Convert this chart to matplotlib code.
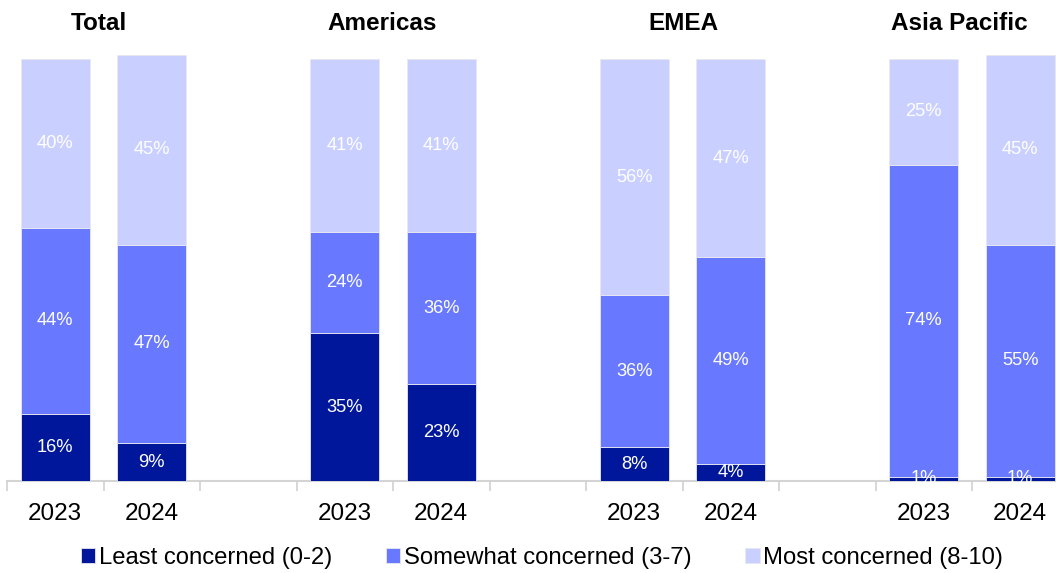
import matplotlib
matplotlib.use("Agg")
import matplotlib.pyplot as plt
import matplotlib.transforms as mtransforms
import numpy as np

plt.rcParams['font.family'] = ['Liberation Sans', 'DejaVu Sans']

regions = ["Total", "Americas", "EMEA", "Asia Pacific"]
years = ["2023", "2024"]
least = [16, 9, 35, 23, 8, 4, 1, 1]
somewhat = [44, 47, 24, 36, 36, 49, 74, 55]
most = [40, 45, 41, 41, 56, 47, 25, 45]
series_names = ["Least concerned (0-2)", "Somewhat concerned (3-7)", "Most concerned (8-10)"]
colors = ["#00169B", "#6878FF", "#C9CFFF"]

# slot positions: two bars per region, one empty slot between regions
positions = []
for g in range(len(regions)):
    positions += [g * 3, g * 3 + 1]
positions = np.array(positions, dtype=float)

W, H = 1056, 573
fig = plt.figure(figsize=(W / 100, H / 100), dpi=100)
ax = fig.add_axes([7 / W, 1 - 481 / H, (W - 7) / W, (481 - 55) / H])

bottom = np.zeros(len(positions))
for vals, name, col in zip([least, somewhat, most], series_names, colors):
    vals = np.array(vals, dtype=float)
    bars = ax.bar(positions, vals, width=0.71, bottom=bottom, color=col,
                  label=name, edgecolor="#e8e8f0", linewidth=0.6, zorder=2)
    labels = ax.bar_label(bars, labels=[f"{int(v)}%" for v in vals],
                          label_type="center", color="white", fontsize=13.2)
    for t in labels:
        t.set_clip_on(True)
        t.set_zorder(3)
    bottom += vals

for s in ["top", "right", "left"]:
    ax.spines[s].set_visible(False)
ax.spines["bottom"].set_color("#d4d4d4")
ax.spines["bottom"].set_linewidth(1.5)
ax.spines["bottom"].set_zorder(1)

ax.set_yticks([])
ax.set_xticks(positions)
ax.set_xticklabels(years * len(regions), fontsize=17.5)
ax.tick_params(axis="x", which="major", length=0, pad=16)
ax.set_xticks(np.arange(-0.5, 10, 1.0), minor=True)
ax.tick_params(axis="x", which="minor", length=7, width=1.3, color="#d4d4d4")

ax.set_xlim(-0.5, -0.5 + (W - 7) / 96.5)
ax.set_ylim(0, 101)

title_x = [0.455, 3.39, 6.51, 9.37]
tr = mtransforms.blended_transform_factory(ax.transData, fig.transFigure)
for name, x in zip(regions, title_x):
    ax.text(x, 1 - 23 / H, name, transform=tr,
            ha="center", va="center", fontsize=17.5, fontweight="bold")

handles, lbls = ax.get_legend_handles_labels()
fig.legend(handles, lbls, loc="center", bbox_to_anchor=(542 / W, 1 - 558 / H),
           ncol=3, frameon=False, fontsize=17.2, handlelength=0.6, handleheight=0.6,
           handletextpad=0.15, columnspacing=2.25)

fig.savefig("out.png", dpi=100)
